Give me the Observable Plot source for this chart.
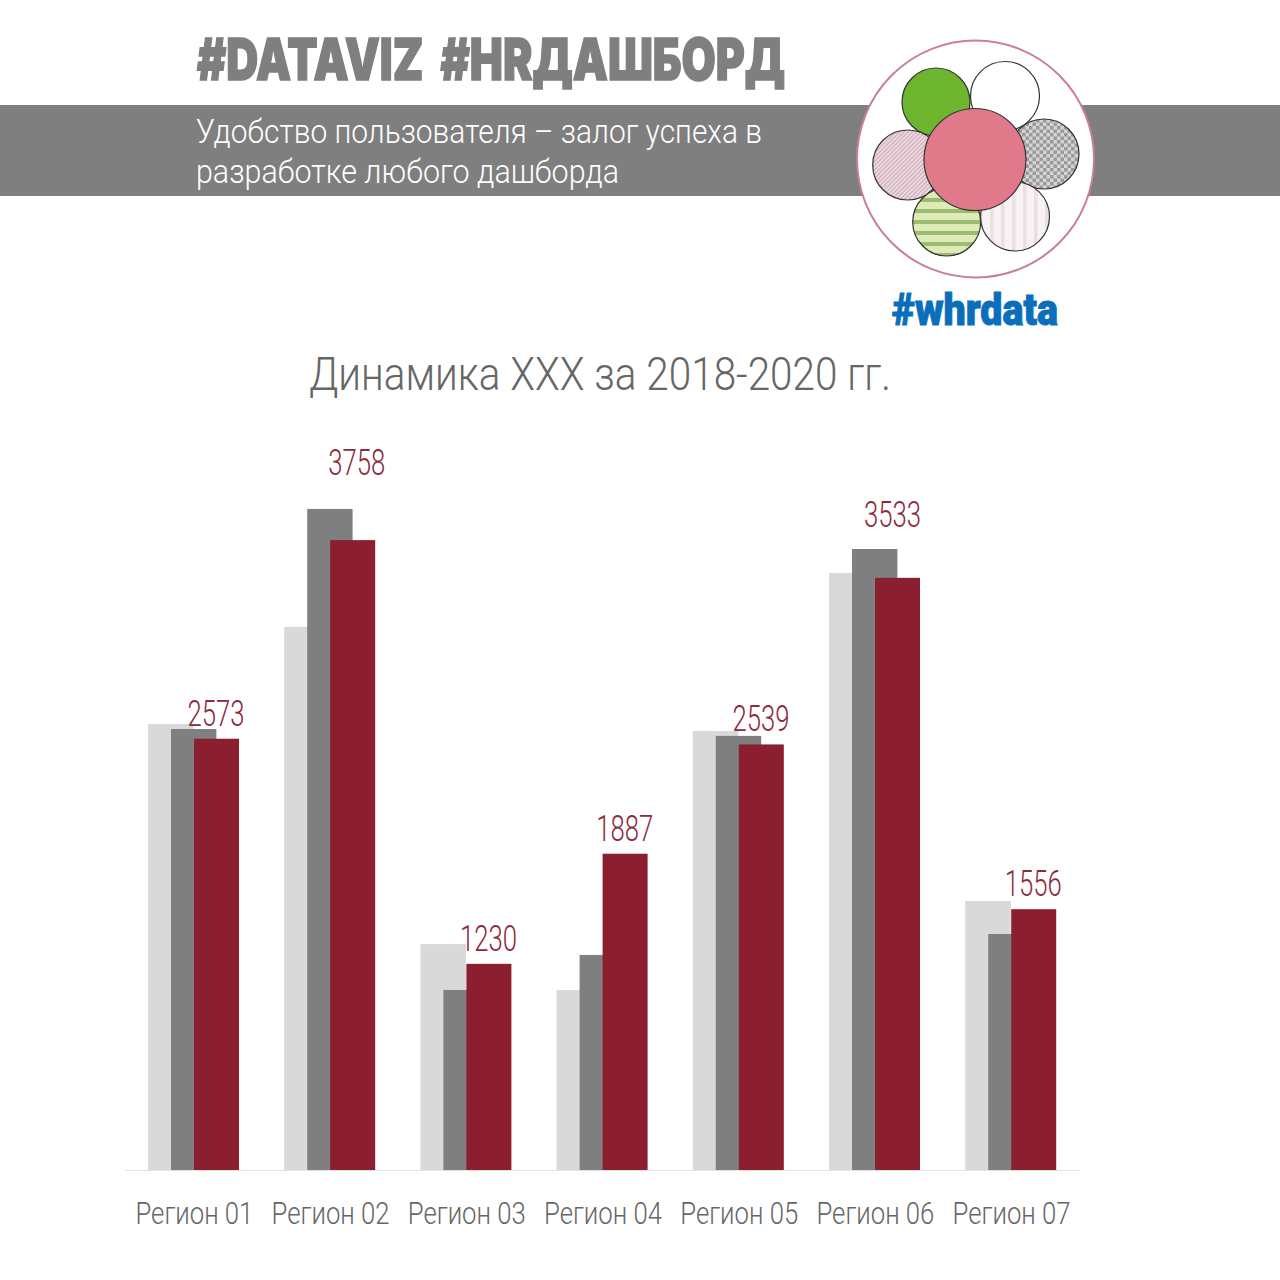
<!DOCTYPE html>
<html lang="ru">
<head>
<meta charset="utf-8">
<script src="https://cdn.jsdelivr.net/npm/d3@7"></script>
<script src="https://cdn.jsdelivr.net/npm/@observablehq/plot@0.6"></script>
<style>
  html, body { margin: 0; padding: 0; background: #fff; }
  #page { position: relative; width: 1280px; height: 1280px; overflow: hidden; }
  #header { position: absolute; left: 0; top: 0; }
  #chart { position: absolute; left: 0; top: 420px; }
</style>
</head>
<body>
<div id="page">
  <svg id="header" width="1280" height="420" viewBox="0 0 1280 420" xmlns="http://www.w3.org/2000/svg">
    <defs>
      <pattern id="pCheck" width="7" height="7" patternUnits="userSpaceOnUse">
        <rect width="7" height="7" fill="#d4d4d4"/>
        <rect width="3.5" height="3.5" fill="#9a9a9a"/>
        <rect x="3.5" y="3.5" width="3.5" height="3.5" fill="#9a9a9a"/>
      </pattern>
      <pattern id="pDiag" width="3" height="3" patternUnits="userSpaceOnUse" patternTransform="rotate(45)">
        <rect width="3" height="3" fill="#ecd8de"/>
        <rect width="1" height="3" fill="#c9a9b4"/>
      </pattern>
      <pattern id="pHoriz" width="11" height="11" patternUnits="userSpaceOnUse">
        <rect width="11" height="11" fill="#dcebb8"/>
        <rect y="0" width="11" height="4" fill="#9dbb70"/>
      </pattern>
      <pattern id="pVert" width="11" height="11" patternUnits="userSpaceOnUse">
        <rect width="11" height="11" fill="#f8f2f4"/>
        <rect x="0" width="3.5" height="11" fill="#eadfe3"/>
      </pattern>
    </defs>
    <text x="197" y="80" textLength="588" lengthAdjust="spacingAndGlyphs" word-spacing="11" fill="#7f7f7f" stroke="#7f7f7f" stroke-width="1.5" font-family="Inter, Roboto, sans-serif" font-weight="900" font-size="58">#DATAVIZ #HRДАШБОРД</text>
    <rect x="0" y="105" width="1280" height="91" fill="#7f7f7f"/>
    <text x="196" y="143" textLength="566" lengthAdjust="spacingAndGlyphs" fill="#fff" font-family="Roboto, sans-serif" font-weight="300" font-size="33">Удобство пользователя – залог успеха в</text>
    <text x="196" y="183" textLength="423" lengthAdjust="spacingAndGlyphs" fill="#fff" font-family="Roboto, sans-serif" font-weight="300" font-size="33">разработке любого дашборда</text>
    <circle cx="975.5" cy="159" r="118.5" fill="#fff" stroke="#c9808f" stroke-width="2"/>
    <g stroke="#333" stroke-width="1.2">
      <circle cx="936" cy="102" r="34" fill="#6eb52f"/>
      <circle cx="1005" cy="96" r="34.5" fill="#fff"/>
      <circle cx="1044" cy="154" r="35" fill="url(#pCheck)"/>
      <circle cx="907.7" cy="165" r="35" fill="url(#pDiag)"/>
      <circle cx="946.7" cy="222" r="34" fill="url(#pHoriz)"/>
      <circle cx="1015" cy="216.5" r="34.5" fill="url(#pVert)"/>
      <circle cx="975" cy="159.5" r="51" fill="#e07a8a"/>
    </g>
    <text x="892" y="325" textLength="166" lengthAdjust="spacingAndGlyphs" fill="#0a6ebd" stroke="#0a6ebd" stroke-width="1" font-family="Roboto, sans-serif" font-weight="900" font-size="44">#whrdata</text>
    <text x="309" y="390" textLength="582" lengthAdjust="spacingAndGlyphs" fill="#666" font-family="Roboto, sans-serif" font-weight="300" font-size="46">Динамика ХХХ за 2018-2020 гг.</text>
  </svg>
  <div id="chart"></div>
</div>
<script>
const regions = ["Регион 01", "Регион 02", "Регион 03", "Регион 04", "Регион 05", "Регион 06", "Регион 07"];
const values2018 = [2661, 3240, 1348, 1074, 2619, 3562, 1605];
const values2019 = [2631, 3944, 1074, 1283, 2590, 3705, 1408];
const values2020 = [2573, 3758, 1230, 1887, 2539, 3533, 1556];

const table = (vals) => regions.map((region, i) => ({region, value: vals[i]}));
const rows2018 = table(values2018);
const rows2019 = table(values2019);
const rows2020 = table(values2020);

const labelColor = "#8b2a3c";
const labelFont = {fontFamily: "Roboto, sans-serif", fontWeight: 300, fontSize: 37, fill: labelColor, text: d => String(d.value), x: "region", y: "value", textAnchor: "middle", lineAnchor: "middle"};

const plot = Plot.plot({
  width: 1280,
  height: 860,
  marginLeft: 125,
  marginRight: 201.6,
  marginTop: 10,
  marginBottom: 110,
  style: {background: "transparent", overflow: "visible"},
  x: {domain: regions, padding: 0, round: false, label: null},
  y: {domain: [0, 4415], axis: null},
  marks: [
    Plot.barY(rows2018, {x: "region", y: "value", fill: "#d9d9d9", insetLeft: 23, insetRight: 67.6}),
    Plot.barY(rows2019, {x: "region", y: "value", fill: "#7f7f7f", insetLeft: 46, insetRight: 44.8}),
    Plot.barY(rows2020, {x: "region", y: "value", fill: "#8b1e2f", insetLeft: 69, insetRight: 22.2}),
    Plot.ruleY([0], {stroke: "#e2e2e2", strokeWidth: 1, insetRight: -1.6}),
    Plot.text(rows2020.filter(d => d.region !== "Регион 02" && d.region !== "Регион 06"), {...labelFont, dx: 22.5, dy: -25.5}),
    Plot.text(rows2020.filter(d => d.region === "Регион 02"), {...labelFont, dx: 27, dy: -77.5}),
    Plot.text(rows2020.filter(d => d.region === "Регион 06"), {...labelFont, dx: 18, dy: -63.5}),
    Plot.axisX({anchor: "bottom", tickSize: 0, tickPadding: 31, dx: 0.8, label: null, fontSize: 31, fontFamily: "Roboto, sans-serif", fontWeight: 300, fill: "#666", lineAnchor: "top"})
  ]
});
document.getElementById("chart").appendChild(plot);

// Narrow the installed fonts to the condensed widths of the original lettering.
plot.querySelectorAll("text").forEach(t => {
  const isValue = /^\d{4}$/.test(t.textContent.trim());
  t.setAttribute("textLength", isValue ? 57 : 118);
  t.setAttribute("lengthAdjust", "spacingAndGlyphs");
});
</script>
</body>
</html>
